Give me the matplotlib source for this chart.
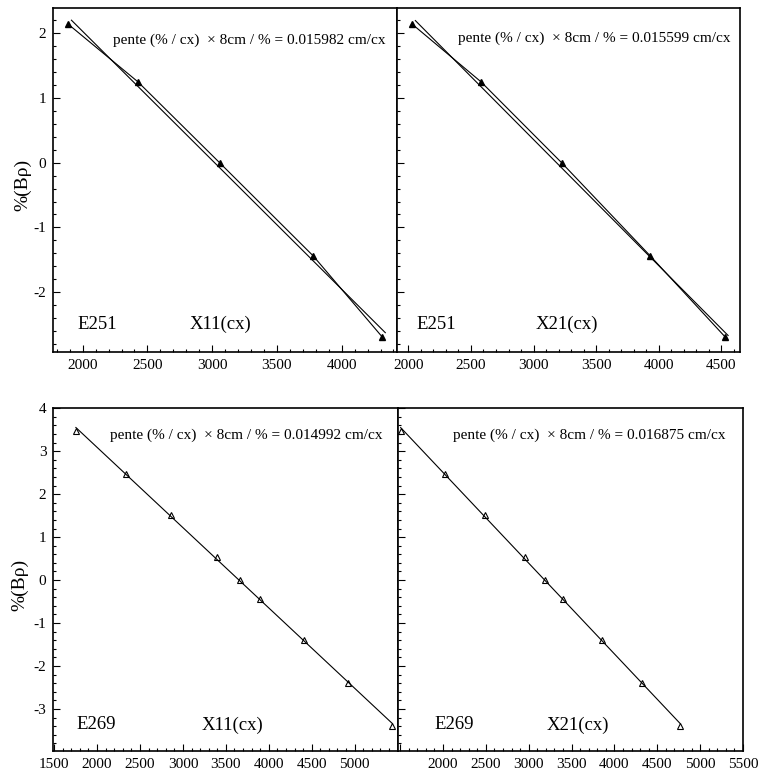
import numpy as np
import matplotlib
matplotlib.use("Agg")
import matplotlib.pyplot as plt
from matplotlib.ticker import MultipleLocator, FuncFormatter

plt.rcParams['font.family'] = ['Liberation Serif', 'DejaVu Serif']
plt.rcParams['axes.unicode_minus'] = False

# E251 calibration points (X11 and X21 channels vs %(Brho))
e251_x11 = [1888, 2426, 3057, 3780, 4312]
e251_x21 = [2031, 2580, 3224, 3932, 4529]
e251_bp = [2.14, 1.25, 0.0, -1.44, -2.69]

# E269 calibration points
e269_x11 = [1753, 2332, 2864, 3393, 3664, 3897, 4410, 4927, 5439]
e269_x21 = [1506, 2020, 2487, 2956, 3191, 3403, 3856, 4317, 4766]
e269_bp = [3.47, 2.48, 1.51, 0.53, 0.0, -0.43, -1.39, -2.40, -3.40]

slopes = ['0.015982', '0.015599', '0.014992', '0.016875']

W, H = 759, 775
fig = plt.figure(figsize=(W / 100, H / 100), dpi=100)


def px_axes(l, t, r, b):
    return fig.add_axes([l / W, 1 - b / H, (r - l) / W, (b - t) / H])


ax_tl = px_axes(53.3, 8, 396.7, 352.3)
ax_tr = px_axes(396.7, 8, 740, 352.3)
ax_bl = px_axes(53.3, 408.3, 398, 751)
ax_br = px_axes(398, 408.3, 743, 751)


def hide_label(val):
    return FuncFormatter(lambda v, p: '' if abs(v - val) < 1 else '%d' % v)


def panel(ax, x, y, slope, run, det, filled, two_lines, txt_pos):
    x = np.array(x, float)
    y = np.array(y, float)
    a, b = np.polyfit(x, y, 1)
    xf = np.array([x.min(), x.max()])
    if two_lines:
        ax.plot(x, y, color='black', lw=0.8)
        ax.plot(xf + 25, a * (xf + 25) + b, color='black', lw=0.8)
    else:
        ax.plot(xf, a * xf + b, color='black', lw=0.8)
    if filled:
        ax.plot(x, y, '^', ms=4.5, color='black', clip_on=False)
    else:
        ax.plot(x, y, '^', ms=5, mfc='none', mec='black', mew=0.8, clip_on=False)

    ax.text(txt_pos[0], txt_pos[1],
            'pente (% / cx)  \u00d7 8cm / % = ' + slope + ' cm/cx',
            transform=ax.transAxes, fontsize=11, va='center', ha='left')
    ax.text(txt_pos[2], txt_pos[3], run, transform=ax.transAxes,
            fontsize=13.5, va='center', ha='left')
    ax.text(txt_pos[4], txt_pos[3], det, transform=ax.transAxes,
            fontsize=13.5, va='center', ha='left')

    for s in ax.spines.values():
        s.set_linewidth(1.2)
    ax.tick_params(which='both', direction='in', top=False, right=False,
                   labelsize=11, width=0.8)
    ax.tick_params(which='major', length=5)
    ax.tick_params(which='minor', length=2.5)
    ax.tick_params(axis='x', pad=5)
    ax.tick_params(axis='y', pad=5)
    ax.xaxis.set_major_locator(MultipleLocator(500))
    ax.xaxis.set_minor_locator(MultipleLocator(100))
    ax.yaxis.set_major_locator(MultipleLocator(1))
    ax.yaxis.set_minor_locator(MultipleLocator(0.2))


panel(ax_tl, e251_x11, e251_bp, slopes[0], 'E251', 'X11(cx)', True, True,
      (0.175, 0.907, 0.07, 0.082, 0.398))
panel(ax_tr, e251_x21, e251_bp, slopes[1], 'E251', 'X21(cx)', True, True,
      (0.178, 0.912, 0.058, 0.082, 0.406))
panel(ax_bl, e269_x11, e269_bp, slopes[2], 'E269', 'X11(cx)', False, False,
      (0.164, 0.922, 0.068, 0.076, 0.43))
panel(ax_br, e269_x21, e269_bp, slopes[3], 'E269', 'X21(cx)', False, False,
      (0.16, 0.922, 0.105, 0.076, 0.431))

ax_tl.set_xlim(1773, 4425)
ax_tr.set_xlim(1907, 4649)
for ax in (ax_tl, ax_tr):
    ax.set_ylim(-2.93, 2.39)
ax_bl.set_xlim(1490, 5505)
ax_br.set_xlim(1475, 5500)
for ax in (ax_bl, ax_br):
    ax.set_ylim(-3.98, 4.0)

ax_tr.tick_params(axis='y', labelleft=False)
ax_br.tick_params(axis='y', labelleft=False)
ax_bl.xaxis.set_major_formatter(hide_label(5500))
ax_br.xaxis.set_major_formatter(hide_label(1500))

fig.text(23 / W, 1 - 185 / H, '%(B\u03c1)', rotation=90, fontsize=14,
         ha='center', va='center')
fig.text(20 / W, 1 - 585 / H, '%(B\u03c1)', rotation=90, fontsize=14,
         ha='center', va='center')

fig.savefig('out.png', dpi=100)
